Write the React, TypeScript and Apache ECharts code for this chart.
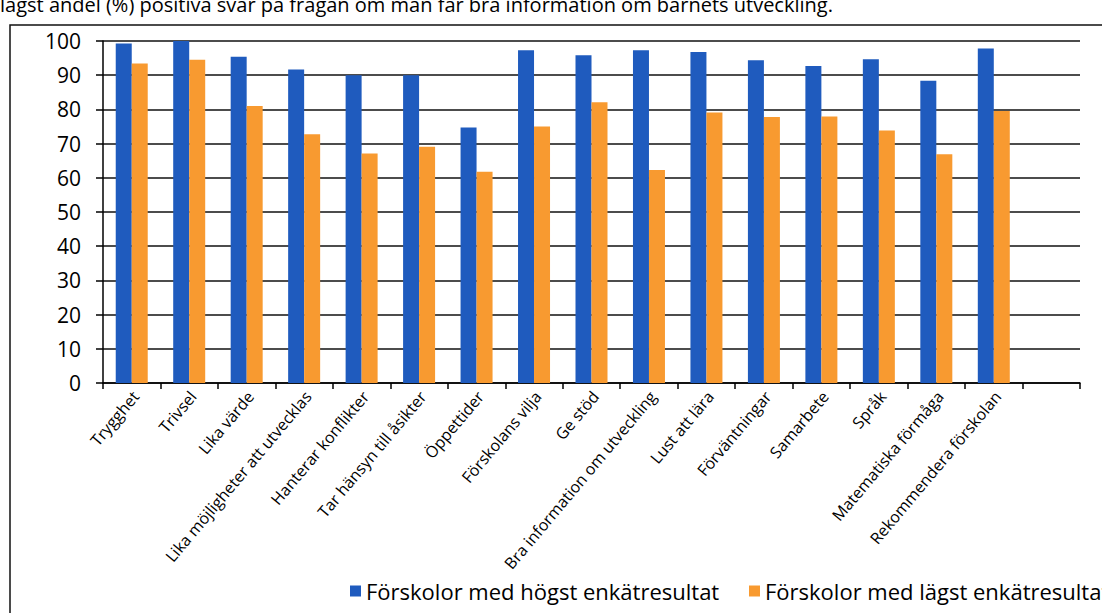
import React, { useEffect, useRef } from "react";
import * as echarts from "echarts";

const categories = [
  "Trygghet",
  "Trivsel",
  "Lika värde",
  "Lika möjligheter att utvecklas",
  "Hanterar konflikter",
  "Tar hänsyn till åsikter",
  "Öppettider",
  "Förskolans vilja",
  "Ge stöd",
  "Bra information om utveckling",
  "Lust att lära",
  "Förväntningar",
  "Samarbete",
  "Språk",
  "Matematiska förmåga",
  "Rekommendera förskolan",
  "",
];

const highest = [99.3, 100, 95.4, 91.7, 90.0, 90.0, 74.7, 97.3, 95.8, 97.3, 96.8, 94.4, 92.7, 94.7, 88.4, 97.8, null];
const lowest = [93.4, 94.5, 81.0, 72.7, 67.1, 69.1, 61.8, 75.0, 82.1, 62.3, 79.1, 77.8, 77.9, 73.8, 66.9, 79.5, null];

const seriesNames = ["Förskolor med högst enkätresultat", "Förskolor med lägst enkätresultat"];
const yTicks = { min: 0, max: 100, interval: 10 };
const titleText = "lägst andel (%) positiva svar på frågan om man får bra information om barnets utveckling.";

const FONT = "'Open Sans', Lato, sans-serif";

const legendBase = {
  top: 575,
  itemWidth: 11,
  itemHeight: 11,
  icon: "rect",
  textStyle: { fontSize: 22, color: "#000", fontFamily: FONT },
};

export default function App() {
  const ref = useRef<HTMLDivElement>(null);
  useEffect(() => {
    if (!ref.current) return;
    const chart = echarts.init(ref.current, undefined, { renderer: "svg" });
    chart.setOption({
      animation: false,
      backgroundColor: "#ffffff",
      textStyle: { fontFamily: FONT },
      graphic: [
        {
          type: "text",
          left: 0,
          top: -6,
          style: { text: titleText, fontSize: 20, fill: "#000", fontFamily: FONT },
        },
        {
          type: "rect",
          shape: { x: 10, y: 25, width: 1200, height: 700 },
          style: { fill: "none", stroke: "#111", lineWidth: 1.5 },
          silent: true,
        },
      ],
      legend: [
        { ...legendBase, left: 345, data: [seriesNames[0]] },
        { ...legendBase, left: 744, data: [seriesNames[1]] },
      ],
      grid: { left: 103, right: 22, top: 41, bottom: 230, containLabel: false },
      xAxis: {
        type: "category",
        data: categories,
        axisLine: { show: true, lineStyle: { color: "#000", width: 1.5 } },
        axisTick: { show: true, length: 6, lineStyle: { color: "#000", width: 1.5 } },
        axisLabel: {
          interval: 0,
          rotate: 50,
          fontSize: 16,
          color: "#000",
          margin: 15,
          padding: [58, -6, 0, 0],
          fontFamily: FONT,
        },
        splitLine: { show: false },
      },
      yAxis: {
        type: "value",
        min: yTicks.min,
        max: yTicks.max,
        interval: yTicks.interval,
        axisLine: { show: true, lineStyle: { color: "#000", width: 1.5 } },
        axisTick: { show: true, length: 7, lineStyle: { color: "#000", width: 1.5 } },
        axisLabel: { fontSize: 21, color: "#000", margin: 22, fontFamily: FONT },
        splitLine: { show: true, lineStyle: { color: "#111", width: 1.5 } },
      },
      series: [
        {
          name: seriesNames[0],
          type: "bar",
          data: highest,
          barWidth: 16,
          barGap: "0%",
          itemStyle: { color: "#1F5BBE" },
        },
        {
          name: seriesNames[1],
          type: "bar",
          data: lowest,
          barWidth: 16,
          barGap: "0%",
          itemStyle: { color: "#F89A30" },
        },
      ],
    });
    return () => chart.dispose();
  }, []);
  return (
    <div
      ref={ref}
      style={{ position: "absolute", left: 0, top: 0, width: 1102, height: 613 }}
    />
  );
}
